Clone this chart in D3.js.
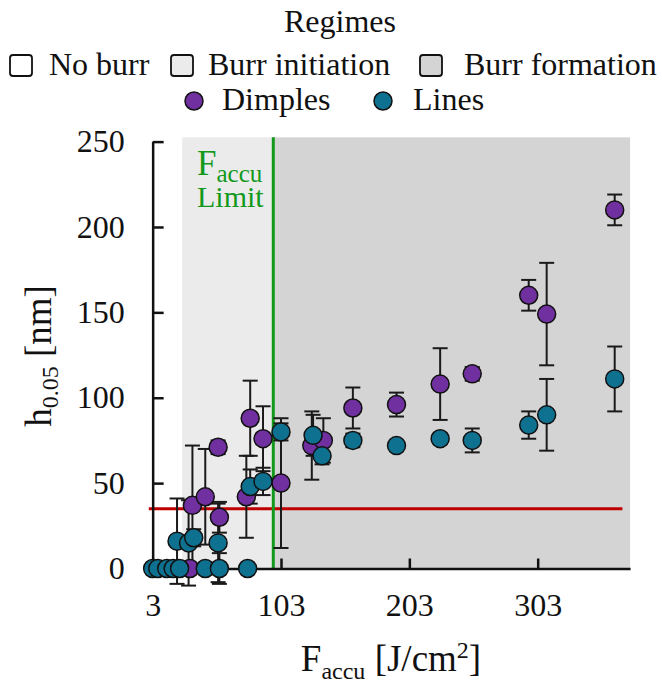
<!DOCTYPE html>
<html>
<head>
<meta charset="utf-8">
<script src="https://cdn.jsdelivr.net/npm/d3@7"></script>
<style>
body { margin: 0; background: #fff; }
text { font-family: "Liberation Serif", "Times New Roman", serif; fill: #111; }
</style>
</head>
<body>
<svg width="662" height="686"></svg>
<script>
// chart values
var xTicks = [3, 103, 203, 303];
var yTicks = [0, 50, 100, 150, 200, 250];

var regimeNames = ["No burr", "Burr initiation", "Burr formation"];
var regimeFrom = [3, 26, 97];
var regimeTo = [26, 97, 375];

var faccuLimit = 97;
var thresholdH = 35;

var dimplesF = [32, 34, 44, 54, 55, 76, 79, 89, 103, 127, 136, 159, 193, 227, 252, 296, 310, 363];
var dimplesH = [0, 37, 42, 71, 30, 42, 88, 76, 50, 72, 75, 94, 96, 108, 114, 160, 149, 210];
var dimplesErr = [0, 35, 28, 4, 9, 24, 22, 19, 38, 20, 13, 12, 7, 21, 4, 9, 30, 9];

var linesF = [3, 7, 14, 19, 24, 44, 55, 77, 22, 31, 35, 54, 79, 89, 103, 128, 135, 159, 193, 227, 252, 296, 310, 363];
var linesH = [0, 0, 0, 0, 0, 0, 0, 0, 16, 15, 18, 15, 48, 51, 80, 78, 66, 75, 72, 76, 75, 84, 90, 111];
var linesErr = [0, 0, 0, 0, 0, 0, 9, 0, 25, 25, 5, 23, 10, 8, 5, 12, 5, 4, 0, 3, 7, 8, 21, 19];

// svg + scales
var svg = d3.select("svg");

var x = d3.scaleLinear().domain([3, 375]).range([152.65, 630.1]);
var y = d3.scaleLinear().domain([0, 250]).range([568.5, 141.6]);
var yTop = y(252.5);

var regimeFill = ["#ffffff", "#ebebeb", "#d4d4d4"];
var purple = "#7030a0";
var teal = "#0f7190";
var green = "#12991c";
var red = "#c00000";

var regimes = regimeNames.map(function(n, i) {
  return {name: n, from: regimeFrom[i], to: regimeTo[i], fill: regimeFill[i]};
});

// regime backgrounds
svg.append("g")
  .selectAll("rect")
  .data(regimes)
  .enter()
  .append("rect")
  .attr("x", function(d) { return x(d.from); })
  .attr("y", yTop)
  .attr("width", function(d) { return x(d.to) - x(d.from); })
  .attr("height", y(0) - yTop)
  .attr("fill", function(d) { return d.fill; });

// threshold line
svg.append("line")
  .attr("x1", x(0)).attr("x2", x(369))
  .attr("y1", y(thresholdH)).attr("y2", y(thresholdH))
  .attr("stroke", red)
  .attr("stroke-width", 3);

// limit line
svg.append("line")
  .attr("x1", x(faccuLimit)).attr("x2", x(faccuLimit))
  .attr("y1", yTop).attr("y2", y(0))
  .attr("stroke", green)
  .attr("stroke-width", 3);

// limit label, one text block
var limitLabel = svg.append("text")
  .attr("x", 197)
  .attr("y", 175)
  .style("fill", green);
limitLabel.append("tspan").style("font-size", "35px").style("fill", green).text("F");
limitLabel.append("tspan").style("font-size", "25px").style("fill", green).attr("dy", 7).text("accu");
limitLabel.append("tspan").attr("x", 197).attr("dy", 25)
  .style("font-size", "30px").style("fill", green).text("Limit");

// axes
var xAxis = svg.append("g")
  .attr("transform", "translate(0," + y(0) + ")")
  .call(d3.axisBottom(x).tickValues(xTicks).tickSize(-10).tickSizeOuter(0).tickPadding(25));

var yAxis = svg.append("g")
  .attr("transform", "translate(" + x(3) + ",0)")
  .call(d3.axisLeft(y).tickValues(yTicks).tickSize(-11).tickSizeOuter(0).tickPadding(28));

[xAxis, yAxis].forEach(function(a) {
  a.select(".domain").attr("stroke", "#111").attr("stroke-width", 2.5);
  a.selectAll(".tick line").attr("stroke", "#111").attr("stroke-width", 2.5);
  a.selectAll(".tick text")
    .style("font-family", "'Liberation Serif', serif")
    .style("font-size", "32px")
    .attr("fill", "#111");
});

// points
function series(fs, hs, es, color) {
  return fs.map(function(f, i) { return {f: f, h: hs[i], e: es[i], color: color}; });
}
var dimples = series(dimplesF, dimplesH, dimplesErr, purple);
var lines = series(linesF, linesH, linesErr, teal);
var all = dimples.concat(lines);

var bars = svg.append("g")
  .selectAll("g")
  .data(all.filter(function(d) { return d.e > 0; }))
  .enter()
  .append("g")
  .attr("stroke", "#1a1a1a")
  .attr("stroke-width", 2);

var cap = 7.5;
bars.append("line")
  .attr("x1", function(d) { return x(d.f); })
  .attr("x2", function(d) { return x(d.f); })
  .attr("y1", function(d) { return y(d.h + d.e); })
  .attr("y2", function(d) { return y(d.h - d.e); });
bars.append("line")
  .attr("x1", function(d) { return x(d.f) - cap; })
  .attr("x2", function(d) { return x(d.f) + cap; })
  .attr("y1", function(d) { return y(d.h + d.e); })
  .attr("y2", function(d) { return y(d.h + d.e); });
bars.append("line")
  .attr("x1", function(d) { return x(d.f) - cap; })
  .attr("x2", function(d) { return x(d.f) + cap; })
  .attr("y1", function(d) { return y(d.h - d.e); })
  .attr("y2", function(d) { return y(d.h - d.e); });

svg.append("g")
  .selectAll("circle")
  .data(all)
  .enter()
  .append("circle")
  .attr("cx", function(d) { return x(d.f); })
  .attr("cy", function(d) { return y(d.h); })
  .attr("r", 9)
  .attr("fill", function(d) { return d.color; })
  .attr("stroke", "#111")
  .attr("stroke-width", 1.5);

// axis titles
var xTitle = svg.append("text")
  .attr("x", 391)
  .attr("y", 671)
  .attr("text-anchor", "middle")
  .style("font-size", "37px");
xTitle.append("tspan").text("F");
xTitle.append("tspan").attr("dy", 8).style("font-size", "24px").text("accu");
xTitle.append("tspan").attr("dy", -8).text(" [J/cm");
xTitle.append("tspan").attr("dy", -13).style("font-size", "24px").text("2");
xTitle.append("tspan").attr("dy", 13).text("]");

var yTitle = svg.append("text")
  .attr("transform", "translate(51,356) rotate(-90)")
  .attr("text-anchor", "middle")
  .style("font-size", "37px");
yTitle.append("tspan").text("h");
yTitle.append("tspan").attr("dy", 7).style("font-size", "24px").text("0.05");
yTitle.append("tspan").attr("dy", -7).text(" [nm]");

// legend
svg.append("text")
  .attr("x", 340)
  .attr("y", 32)
  .attr("text-anchor", "middle")
  .style("font-size", "32px")
  .text("Regimes");

var boxX = [10, 171, 420];
var labelX = [49, 208, 464];
var regLegend = svg.append("g")
  .selectAll("g")
  .data(regimes)
  .enter()
  .append("g");
regLegend.append("rect")
  .attr("x", function(d, i) { return boxX[i]; })
  .attr("y", 55)
  .attr("width", 22)
  .attr("height", 21)
  .attr("rx", 3)
  .attr("fill", function(d) { return d.fill; })
  .attr("stroke", "#111")
  .attr("stroke-width", 1.8);
regLegend.append("text")
  .attr("x", function(d, i) { return labelX[i]; })
  .attr("y", 75)
  .style("font-size", "32px")
  .text(function(d) { return d.name; });

var seriesLegend = [
  {name: "Dimples", color: purple, cx: 194, tx: 222},
  {name: "Lines", color: teal, cx: 383, tx: 413}
];
var sl = svg.append("g")
  .selectAll("g")
  .data(seriesLegend)
  .enter()
  .append("g");
sl.append("circle")
  .attr("cx", function(d) { return d.cx; })
  .attr("cy", 101)
  .attr("r", 9)
  .attr("fill", function(d) { return d.color; })
  .attr("stroke", "#111")
  .attr("stroke-width", 1.5);
sl.append("text")
  .attr("x", function(d) { return d.tx; })
  .attr("y", 110)
  .style("font-size", "32px")
  .text(function(d) { return d.name; });
</script>
</body>
</html>
